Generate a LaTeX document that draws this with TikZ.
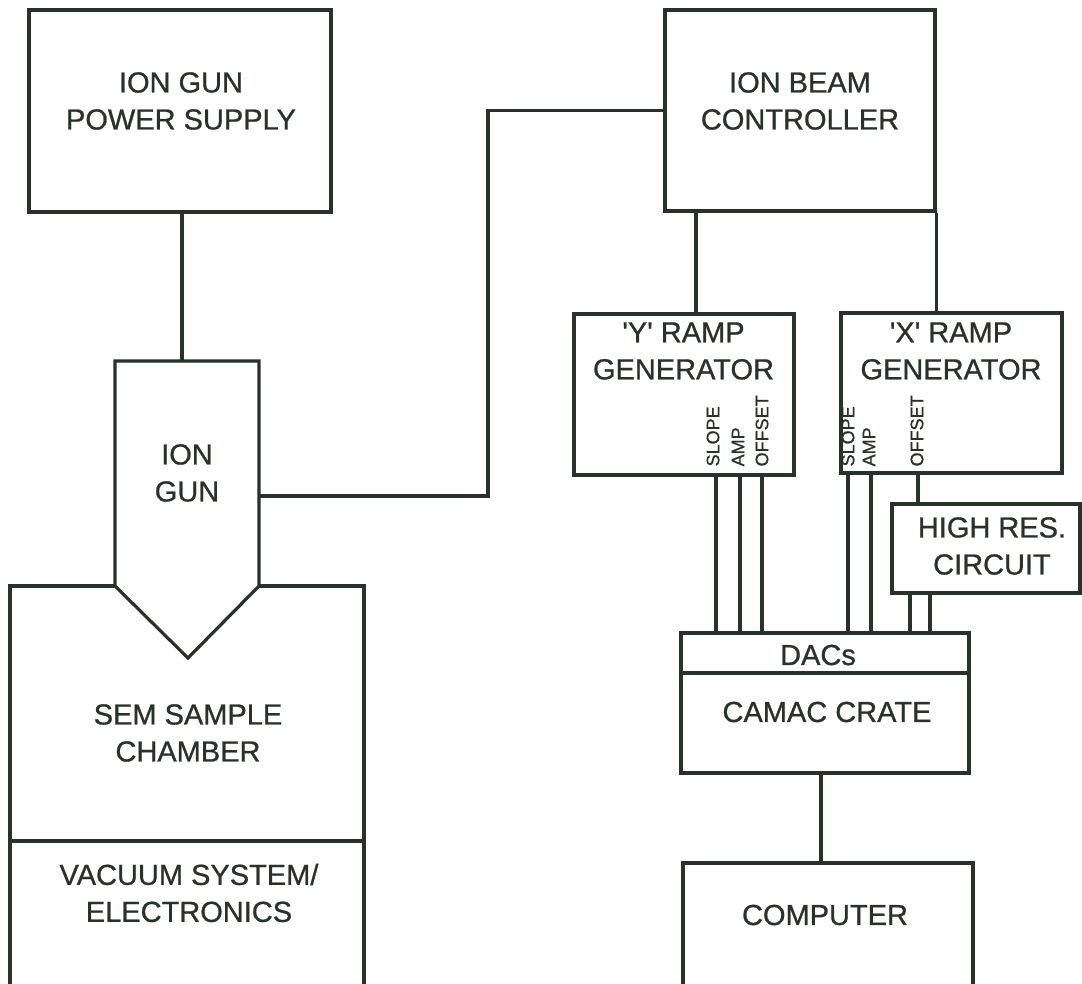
\documentclass[tikz,border=0pt]{standalone}
\usepackage{fontspec}
\setmainfont{Liberation Sans}
\newfontfamily\lblfont[FakeBold=0.8]{Liberation Sans}
\definecolor{ink}{RGB}{40,50,42}
\begin{document}
\begin{tikzpicture}[x=1pt,y=-1pt,
  line width=3.2pt, draw=ink, text=ink,
  box/.style={draw=ink, rectangle, inner sep=0pt, line width=3.2pt},
  lbl/.style={align=center, inner sep=0pt, font=\lblfont\fontsize{29}{37}\selectfont},
  sig/.style={rotate=90, anchor=west, inner sep=0pt, font=\lblfont\fontsize{18}{18}\selectfont},
  wire/.style={draw=ink, line width=3.2pt}]
\useasboundingbox (0,0) rectangle (1082,984);
\clip (0,0) rectangle (1082,984);
\fill[white] (0,0) rectangle (1082,984);

% boxes
\node[box, minimum width=302pt, minimum height=202pt] (psu) at (180,111) {};
\node[lbl] (psut) at (181,101) {ION GUN\\POWER SUPPLY};

\node[box, minimum width=270pt, minimum height=201pt] (ibc) at (800,110.5) {};
\node[lbl] (ibct) at (800,101) {ION BEAM\\CONTROLLER};

\node[box, minimum width=220pt, minimum height=161pt] (yramp) at (684,394.5) {};
\node[lbl] (yrampt) at (683.5,351) {\textquotesingle Y\textquotesingle{} RAMP\\GENERATOR};

\node[box, minimum width=221pt, minimum height=160pt] (xramp) at (951.5,393) {};
\node[lbl] (xrampt) at (951,351) {\textquotesingle X\textquotesingle{} RAMP\\GENERATOR};

\node[box, minimum width=188pt, minimum height=89pt] (hrc) at (986,548.5) {};
\node[lbl] (hrct) at (992,546) {HIGH RES.\\CIRCUIT};

\node[box, minimum width=288pt, minimum height=40pt] (dacs) at (825,653) {};
\node[lbl] (dacst) at (818,655) {DACs};
\node[box, minimum width=288pt, minimum height=100pt] (camac) at (825,723) {};
\node[lbl] (camact) at (827,712) {CAMAC CRATE};

% computer (runs off bottom)
\coordinate (compn) at (821,863);
\draw (683,995) -- (683,863) -- (973,863) -- (973,995);
\node[lbl] (compt) at (825,915) {COMPUTER};

% ion gun
\coordinate (gtop) at (182,361);
\coordinate (gright) at (259,496);
\draw[fill=white, line join=miter] (115,361) -- (259,361) -- (259,586) -- (188,658) -- (115,586) -- cycle;
\node[lbl] (gunt) at (187,473) {ION\\GUN};

% SEM chamber
\draw (115,586) -- (10,586) -- (10,995);
\draw (259,586) -- (364,586) -- (364,995);
\draw (10,841) -- (364,841);
\node[lbl] (semt) at (188,733) {SEM SAMPLE\\CHAMBER};
\node[lbl] (vact) at (189,893) {VACUUM SYSTEM/\\ELECTRONICS};

% signal labels
\node[sig] (ys) at (713,468) {SLOPE};
\node[sig] (ya) at (738,468) {AMP};
\node[sig] (yo) at (762,468) {OFFSET};
\node[sig] (xs) at (848,468) {SLOPE};
\node[sig] (xa) at (869,468) {AMP};
\node[sig] (xo) at (917,468) {OFFSET};

% connectors
\draw[wire] (psu.south -| gtop) -- (gtop);
\draw[wire] (gright) -- (488,496) |- (ibc.west);
\draw[wire] ([xshift=12pt]yramp.north) -- ([xshift=12pt]yramp.north |- ibc.south);
\draw[wire] (ibc.south east) -- (ibc.south east |- xramp.north);
\foreach \x in {716,740,762}{
  \draw[wire] (\x,475) -- (\x,633);
}
\foreach \x in {848,871}{
  \draw[wire] (\x,473) -- (\x,633);
}
\draw[wire] (918,473) -- (918,504);
\foreach \x in {910,930}{
  \draw[wire] (\x,593) -- (\x,633);
}
\draw[wire] (camac.south -| compn) -- (compn);
\end{tikzpicture}
\end{document}
